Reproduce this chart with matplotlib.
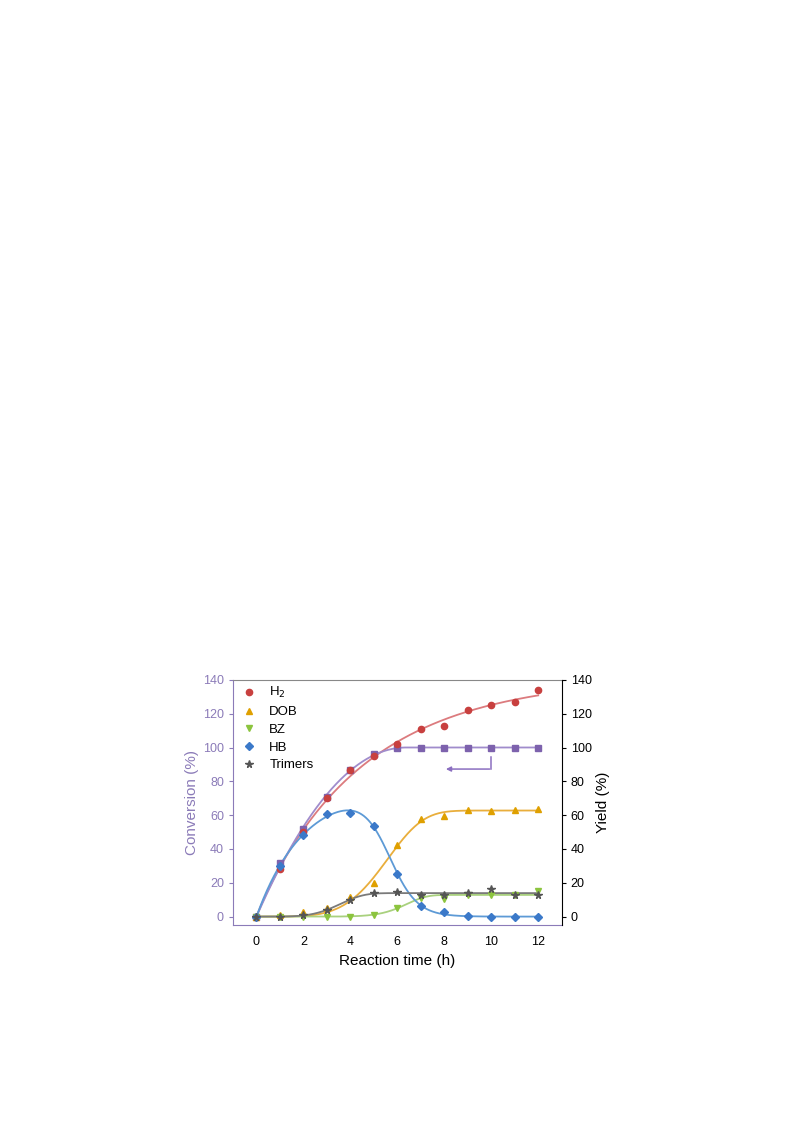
import numpy as np
import matplotlib
matplotlib.use('Agg')
import matplotlib.pyplot as plt
from matplotlib.lines import Line2D
from scipy.optimize import curve_fit

plt.rcParams['font.family'] = ['Liberation Sans', 'DejaVu Sans']

# dados
tempo = [0, 1, 2, 3, 4, 5, 6, 7, 8, 9, 10, 11, 12]
conversao = [0, 32, 52, 71, 87, 96, 100, 100, 100, 100, 100, 100, 100]
h2 = [0, 28, 50, 70, 87, 95, 102, 111, 112.5, 122, 125, 127, 134]
dob = [0, 1, 2.5, 5, 11.5, 20, 42.5, 58, 59.5, 63, 62.5, 63, 63.5]
bz = [0, 0, 0, 0, 0, 1, 5, 11, 10.5, 13, 12.5, 13, 15]
hb = [0, 30, 48.5, 60.5, 61.5, 53.5, 25.5, 6, 3, 0.5, 0, 0, 0]
trimeros = [0, 0, 1, 4, 10, 14, 14.5, 13, 13, 14, 16.5, 13, 13]

nomes_legenda = ['H$_2$', 'DOB', 'BZ', 'HB', 'Trimers']

cor_eixo = '#8b7bb8'


def weibull(x, a, tau, n):
    return a * (1 - np.exp(-(np.abs(x) / tau) ** n))


def satura(x, a, T, p):
    r = np.clip(x / T, 0, 1)
    return a * (1 - (1 - r) ** p)


def sobe_desce(x, a, k1, k2, t0):
    return a * (1 - np.exp(-k1 * x)) / (1 + np.exp(k2 * (x - t0)))


def ajuste(funcao, y, p0):
    coef = curve_fit(funcao, np.array(tempo, float), np.array(y, float), p0=p0, maxfev=200000)[0]
    xf = np.linspace(0, 12, 400)
    return xf, funcao(xf, *coef)


fig = plt.figure(figsize=(7.93, 11.21), dpi=100)
ax = fig.add_axes([0.2938, 0.1748, 0.4145, 0.2186])

# curvas ajustadas
xf, yf = ajuste(weibull, h2, [130, 5, 1.2])
ax.plot(xf, yf, color='#dc7b7e', lw=1.3, zorder=2)
xf, yf = ajuste(satura, conversao, [100, 6, 2])
ax.plot(xf, yf, color='#a08ccc', lw=1.3, zorder=2)
xf, yf = ajuste(weibull, dob, [63, 6, 4])
ax.plot(xf, yf, color='#e9ae3c', lw=1.3, zorder=2)
xf, yf = ajuste(weibull, bz, [13, 7, 5])
ax.plot(xf, yf, color='#a9d17e', lw=1.3, zorder=2)
xf, yf = ajuste(sobe_desce, hb, [80, 0.4, 1.5, 5.5])
ax.plot(xf, yf, color='#5d9ad6', lw=1.3, zorder=2)
xf, yf = ajuste(weibull, trimeros, [14, 4, 3])
ax.plot(xf, yf, color='#7a7a7a', lw=1.3, zorder=2)

# pontos
ax.plot(tempo, conversao, 's', color='#7d62ad', ms=4.5, zorder=3)
ax.plot(tempo, h2, 'o', color='#c8403f', ms=4.5, zorder=3)
ax.plot(tempo, dob, '^', color='#dfa000', ms=5, zorder=3)
ax.plot(tempo, bz, 'v', color='#8cc43e', ms=5, zorder=3)
ax.plot(tempo, hb, 'D', color='#3b79c9', ms=4, zorder=3)
ax.plot(tempo, trimeros, '*', color='#555555', ms=5.5, zorder=3)

# seta indicando eixo da conversao
ax.plot([10, 10], [94.5, 87.3], color='#8b6fc0', lw=1.1)
ax.annotate('', xy=(7.95, 87.3), xytext=(10.05, 87.3),
            arrowprops=dict(arrowstyle='-|>', color='#8b6fc0', lw=1.1, mutation_scale=7))

ax.set_xlim(-1, 13)
ax.set_ylim(-5, 140)
ax.set_xticks([0, 2, 4, 6, 8, 10, 12])
ax.set_yticks([0, 20, 40, 60, 80, 100, 120, 140])
ax.tick_params(axis='x', length=0, labelsize=9, pad=8)
ax.tick_params(axis='y', colors=cor_eixo, labelcolor=cor_eixo, length=3, labelsize=9)
ax.set_xlabel('Reaction time (h)', fontsize=11, labelpad=4)
ax.set_ylabel('Conversion (%)', fontsize=11, color=cor_eixo, labelpad=3)
ax.spines['left'].set_color(cor_eixo)
ax.spines['bottom'].set_color(cor_eixo)
ax.spines['top'].set_color('#888888')
ax.spines['right'].set_visible(False)

ax2 = ax.twinx()
ax2.set_ylim(-5, 140)
ax2.set_yticks([0, 20, 40, 60, 80, 100, 120, 140])
ax2.tick_params(axis='y', length=3, labelsize=9)
ax2.set_ylabel('Yield (%)', fontsize=11, labelpad=3)
for s in ['left', 'top', 'bottom']:
    ax2.spines[s].set_visible(False)
ax2.spines['right'].set_color('black')

handles = [
    Line2D([], [], ls='none', marker='o', color='#c8403f', ms=4.5),
    Line2D([], [], ls='none', marker='^', color='#dfa000', ms=5),
    Line2D([], [], ls='none', marker='v', color='#8cc43e', ms=5),
    Line2D([], [], ls='none', marker='D', color='#3b79c9', ms=4),
    Line2D([], [], ls='none', marker='*', color='#555555', ms=5.5),
]
ax.legend(handles, nomes_legenda, loc='upper left', frameon=False, fontsize=9.5,
          handlelength=1.2, handletextpad=0.9, labelspacing=0.42,
          borderaxespad=0.0, bbox_to_anchor=(0.01, 1.0))

fig.savefig('out.png', dpi=100)
